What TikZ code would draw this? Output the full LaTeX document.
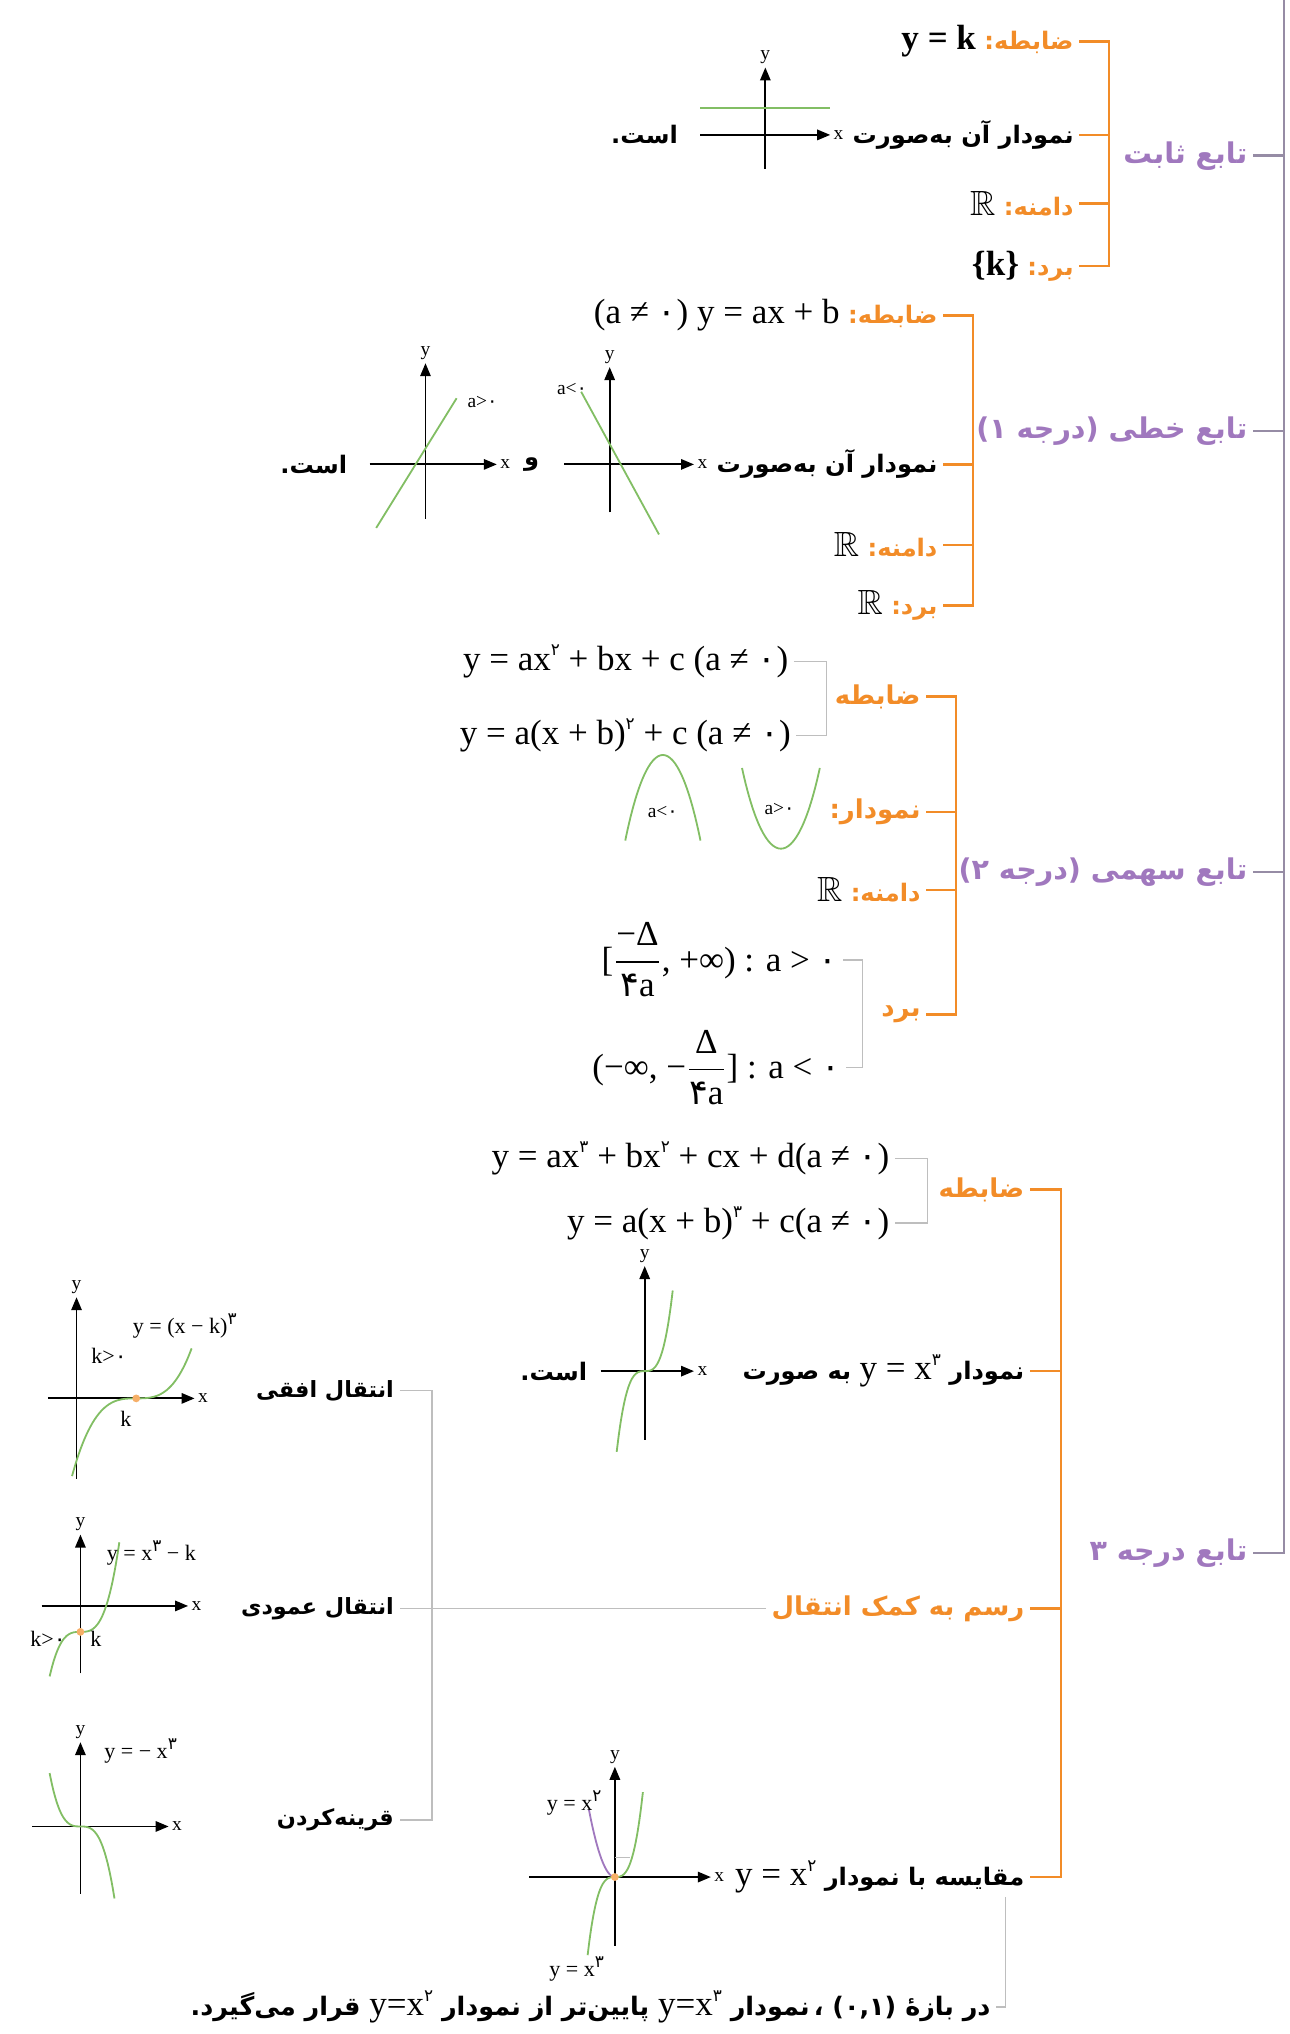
\documentclass[tikz,border=0pt]{standalone}
\usepackage{amsmath,amssymb}
\usepackage{fontspec}
\usetikzlibrary{arrows.meta}
\TeXXeTstate=1
\newfontfamily\fafont[Script=Arabic]{DejaVu Sans}
\newfontfamily\eqfont{Liberation Serif}
\definecolor{orng}{RGB}{242,140,40}
\definecolor{prpl}{RGB}{160,120,190}
\definecolor{grn}{RGB}{130,190,100}
\definecolor{lgray}{RGB}{190,190,190}
\definecolor{mline}{RGB}{150,140,165}
\newcommand\eqs{\eqfont\mdseries\fontsize{13.5}{15}\selectfont}
\newcommand\pd[1]{{\fafont #1}}
\newcommand\pw[1]{\raisebox{0.9ex}{\fafont\fontsize{6.5}{6.5}\selectfont #1}}
\begin{document}
\begin{tikzpicture}[
    x=0.5pt, y=-0.5pt,
    every node/.style={inner sep=2pt},
    topic/.style={anchor=east, text=prpl, font=\fafont\bfseries\fontsize{11}{13}\selectfont},
    row/.style={anchor=east, font=\fafont\bfseries\fontsize{9.3}{12}\selectfont},
    key/.style={anchor=east, text=orng, font=\fafont\bfseries\fontsize{10}{12}\selectfont},
    side/.style={anchor=east, font=\fafont\bfseries\fontsize{8.6}{11}\selectfont},
    eqn/.style={anchor=east, font=\eqs},
    small/.style={inner sep=1pt, font=\eqfont\fontsize{7.5}{8}\selectfont},
    lbl/.style={inner sep=1pt, font=\eqfont\fontsize{8.5}{10}\selectfont},
    mainln/.style={draw=mline, line width=0.9pt},
    obr/.style={draw=orng, line width=1pt},
    gbr/.style={draw=lgray, line width=0.6pt},
    axis/.style={-{Triangle[length=5pt,width=4pt]}, line width=0.7pt},
    curve/.style={draw=grn, line width=0.7pt},
    dot/.style={fill=orng!70}
]
\useasboundingbox (0,0) rectangle (994,1568);

% main branches
\node[topic] (t-const) at (966,120) {\beginR تابع ثابت\endR};
\node[topic] (t-lin) at (966,332) {\beginR تابع خطی (درجه ۱)\endR};
\node[topic] (t-quad) at (966,672) {\beginR تابع سهمی (درجه ۲)\endR};
\node[topic] (t-cubic) at (966,1197) {\beginR تابع درجه ۳\endR};
\coordinate (mtop) at (990,0);
\draw[mainln] (mtop) |- (t-cubic.east);
\draw[mainln] (t-const.east) -- (t-const.east -| mtop);
\draw[mainln] (t-lin.east) -- (t-lin.east -| mtop);
\draw[mainln] (t-quad.east) -- (t-quad.east -| mtop);

% constant function
\node[row] (c-rule) at (832,32) {{\eqs\bfseries y = k}\ {\color{orng}\beginR ضابطه:\endR}};
\node[row] (c-graph) at (832,104) {\beginR نمودار آن به‌صورت\endR};
\node[row] (c-dom) at (832,157) {{\eqs$\mathbb{R}$}\ {\color{orng}\beginR دامنه:\endR}};
\node[row] (c-rng) at (832,205) {{\eqs\bfseries\{k\}}\ {\color{orng}\beginR برد:\endR}};
\node[row] (c-est) at (527,104) {\beginR است.\endR};
\draw[axis] (540,104) -- (640,104) node[small, right] (c-x) {x};
\draw[axis] (590,130) -- (590,52) node[small, above] (c-y) {y};
\draw[curve] (540,83) -- (640,83);
\coordinate (c-sp) at (855,0);
\draw[obr] (c-rule.east) -| (c-sp |- c-rng.east) -- (c-rng.east);
\draw[obr] (c-graph.east) -- (c-graph.east -| c-sp);
\draw[obr] (c-dom.east) -- (c-dom.east -| c-sp);

% linear function
\node[row] (l-rule) at (727,243) {{\eqs(a ≠ \pd{۰}) y = ax + b}\ {\color{orng}\beginR ضابطه:\endR}};
\node[row] (l-graph) at (727,358) {\beginR نمودار آن به‌صورت\endR};
\node[row] (l-dom) at (727,420) {{\eqs$\mathbb{R}$}\ {\color{orng}\beginR دامنه:\endR}};
\node[row] (l-rng) at (727,467) {{\eqs$\mathbb{R}$}\ {\color{orng}\beginR برد:\endR}};
\node[row] (l-and) at (420,358) {و};
\node[row] (l-est) at (272,358) {\beginR است.\endR};
\draw[axis] (435,358) -- (535,358) node[small, right] (ln-x) {x};
\draw[axis] (470,395) -- (470,283) node[small, above] (ln-y) {y};
\draw[curve] (448,302) -- (508,412);
\node[small] (ln-a) at (441,300) {a<\pd{۰}};
\draw[axis] (285,358) -- (383,358) node[small, right] (lp-x) {x};
\draw[axis] (328,400) -- (328,280) node[small, above] (lp-y) {y};
\draw[curve] (290,407) -- (352,307);
\node[small] (lp-a) at (372,310) {a>\pd{۰}};
\coordinate (l-sp) at (750,0);
\draw[obr] (l-rule.east) -| (l-sp |- l-rng.east) -- (l-rng.east);
\draw[obr] (l-graph.east) -- (l-graph.east -| l-sp);
\draw[obr] (l-dom.east) -- (l-dom.east -| l-sp);

% quadratic function
\node[key] (q-rule) at (714,537) {ضابطه};
\node[eqn] (q-eq1) at (612,510) {y = ax\pw{۲} + bx + c (a ≠ \pd{۰})};
\node[eqn] (q-eq2) at (614,567) {y = a(x + b)\pw{۲} + c (a ≠ \pd{۰})};
\node[key] (q-graph) at (714,626) {\beginR نمودار:\endR};
\node[row] (q-dom) at (714,686) {{\eqs$\mathbb{R}$}\ {\color{orng}\beginR دامنه:\endR}};
\node[key] (q-rng) at (714,782) {برد};
\node[eqn] (q-r1) at (650,740) {[$\dfrac{\mbox{\eqs −Δ}}{\mbox{\pd{۴}\eqs a}}$, +∞) : a > \pd{۰}};
\node[eqn] (q-r2) at (652,823) {(−∞, −$\dfrac{\mbox{\eqs Δ}}{\mbox{\pd{۴}\eqs a}}$] : a < \pd{۰}};
\draw[curve] (482,648) .. controls (500,560) and (522,560) .. (540,648);
\node[small] (qn-a) at (511,626) {a<\pd{۰}};
\draw[curve] (572,592) .. controls (590,675) and (614,675) .. (632,592);
\node[small] (qp-a) at (601,624) {a>\pd{۰}};
\coordinate (q-sp) at (737,0);
\draw[obr] (q-rule.east) -| (q-sp |- q-rng.east) -- (q-rng.east);
\draw[obr] (q-graph.east) -- (q-graph.east -| q-sp);
\draw[obr] (q-dom.east) -- (q-dom.east -| q-sp);
\coordinate (qe-sp) at (637,0);
\draw[gbr] (q-eq1.east) -| (qe-sp |- q-eq2.east) -- (q-eq2.east);
\coordinate (qr-sp) at (665,0);
\draw[gbr] (q-r1.east) -| (qr-sp |- q-r2.east) -- (q-r2.east);

% cubic function
\node[key] (k-rule) at (794,917) {ضابطه};
\node[eqn] (k-eq1) at (690,893) {y = ax\pw{۳} + bx\pw{۲} + cx + d(a ≠ \pd{۰})};
\node[eqn] (k-eq2) at (690,943) {y = a(x + b)\pw{۳} + c(a ≠ \pd{۰})};
\node[row] (k-graph) at (794,1057) {{\beginR به صورت\endR}\ {\eqs y = x\pw{۳}}\ {\beginR نمودار\endR}};
\node[row] (k-est) at (457,1057) {\beginR است.\endR};
\draw[axis] (463,1057) -- (535,1057) node[small, right] (k-x) {x};
\draw[axis] (497,1110) -- (497,976) node[small, above] (k-y) {y};
\draw[curve] plot[domain=-1.2:1.2, smooth, samples=30] ({497+18*\x},{1057-36*\x*\x*\x});
\node[key] (k-shift) at (794,1240) {\beginR رسم به کمک انتقال\endR};
\node[row] (k-cmp) at (794,1447) {{\eqs y = x\pw{۲}}\ {\beginR مقایسه با نمودار\endR}};
\node[row, font=\fafont\bfseries\fontsize{9.8}{12}\selectfont] (note) at (768,1547) {{\beginR قرار می‌گیرد.\endR}\ {\eqs y=x\pw{۲}}\ {\beginR پایین‌تر از نمودار\endR}\ {\eqs y=x\pw{۳}}\ {\beginR نمودار\endR}\,{،}\ {(\pd{۰},\pd{۱})}\ {\beginR در بازهٔ\endR}};
\coordinate (k-sp) at (818,0);
\draw[obr] (k-rule.east) -| (k-sp |- k-cmp.east) -- (k-cmp.east);
\draw[obr] (k-graph.east) -- (k-graph.east -| k-sp);
\draw[obr] (k-shift.east) -- (k-shift.east -| k-sp);
\coordinate (ke-sp) at (715,0);
\draw[gbr] (k-eq1.east) -| (ke-sp |- k-eq2.east) -- (k-eq2.east);
\coordinate (cmp-foot) at (775,1462);
\draw[gbr] (note.east) -| (cmp-foot);

% comparison with y=x^2
\draw[axis] (408,1447) -- (548,1447) node[small, right] (m-x) {x};
\draw[axis] (474,1500) -- (474,1362) node[small, above] (m-y) {y};
\draw[draw=prpl, line width=0.7pt] plot[domain=-1:0, smooth, samples=20] ({474+20*\x},{1447-52*\x*\x});
\draw[curve] plot[domain=-1.05:1.08, smooth, samples=30] ({474+20*\x},{1447-52*\x*\x*\x});
\draw[gbr] (474,1432) -- (486,1432);
\fill[dot] (474,1447) circle (3);
\node[lbl, anchor=east] (m-sq) at (466,1390) {y = x\pw{۲}};
\node[lbl, anchor=east] (m-cb) at (468,1518) {y = x\pw{۳}};

% translations
\node[side] (hshift) at (308,1072) {\beginR انتقال افقی\endR};
\node[side] (vshift) at (308,1240) {\beginR انتقال عمودی\endR};
\node[side] (reflect) at (308,1403) {قرینه‌کردن};
\draw[gbr] (k-shift.west) -- (vshift.east);
\coordinate (tr-sp) at (333,0);
\draw[gbr] (hshift.east) -| (tr-sp |- reflect.east) -- (reflect.east);

% horizontal shift
\draw[axis] (37,1078) -- (150,1078) node[small, right] (h-x) {x};
\draw[axis] (59,1140) -- (59,1000) node[small, above] (h-y) {y};
\draw[curve] plot[domain=-1.1:0.95, smooth, samples=30] ({105+45*\x},{1078-45*\x*\x*\x});
\fill[dot] (105,1078) circle (3);
\node[lbl, anchor=west] (h-eq) at (100,1022) {y = (x − k)\pw{۳}};
\node[lbl] (h-k0) at (84,1045) {k>\pd{۰}};
\node[lbl] (h-k) at (97,1094) {k};

% vertical shift
\draw[axis] (32,1238) -- (145,1238) node[small, right] (v-x) {x};
\draw[axis] (62,1290) -- (62,1183) node[small, above] (v-y) {y};
\draw[curve] plot[domain=-0.95:1.2, smooth, samples=30] ({62+25*\x},{1258-40*\x*\x*\x});
\fill[dot] (62,1258) circle (3);
\node[lbl, anchor=west] (v-eq) at (80,1197) {y = x\pw{۳} − k};
\node[lbl] (v-k0) at (37,1263) {k>\pd{۰}};
\node[lbl] (v-k) at (74,1263) {k};

% reflection
\draw[axis] (25,1408) -- (130,1408) node[small, right] (r-x) {x};
\draw[axis] (62,1460) -- (62,1343) node[small, above] (r-y) {y};
\draw[curve] plot[domain=-0.95:1.05, smooth, samples=30] ({62+25*\x},{1408+48*\x*\x*\x});
\node[lbl, anchor=west] (r-eq) at (78,1350) {y = − x\pw{۳}};

\end{tikzpicture}
\end{document}
